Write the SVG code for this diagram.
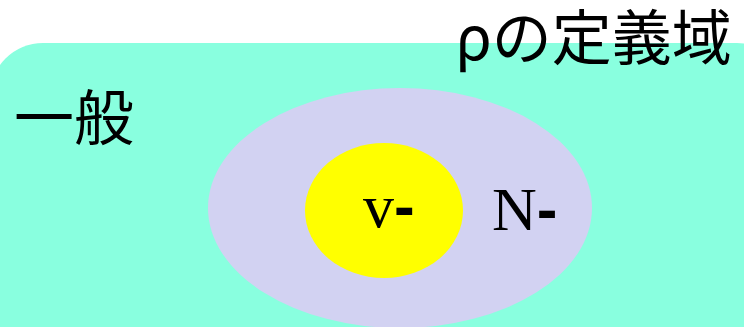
<svg xmlns="http://www.w3.org/2000/svg" width="744" height="327" viewBox="0 0 744 327">
<style>
.jp{font-family:"Noto Sans CJK JP","Noto Sans",sans-serif;font-size:60px;fill:#000}
.lat{font-family:"Liberation Serif","Times New Roman",serif;font-size:62px;fill:#000}
.dash{font-family:"Liberation Sans",Arial,sans-serif;font-weight:bold}
</style>
<rect width="744" height="327" fill="#ffffff"/>
<g id="general">
<rect x="-10" y="43" width="800" height="340" rx="53" ry="53" fill="#89FFDF"/>
<text class="jp" x="14" y="140">一般</text>
</g>
<g id="domain-label">
<text class="jp" x="455" y="60">ρの定義域</text>
</g>
<g id="N">
<ellipse cx="400" cy="208" rx="192" ry="120" fill="#D2D2F2"/>
<text class="lat" x="492" y="230">N<tspan class="dash">-</tspan></text>
</g>
<g id="v">
<ellipse cx="384" cy="210.5" rx="79" ry="67.5" fill="#FFFF00"/>
<text class="lat" x="363" y="227">v<tspan class="dash">-</tspan></text>
</g>
<g id="connectors"/>
</svg>
